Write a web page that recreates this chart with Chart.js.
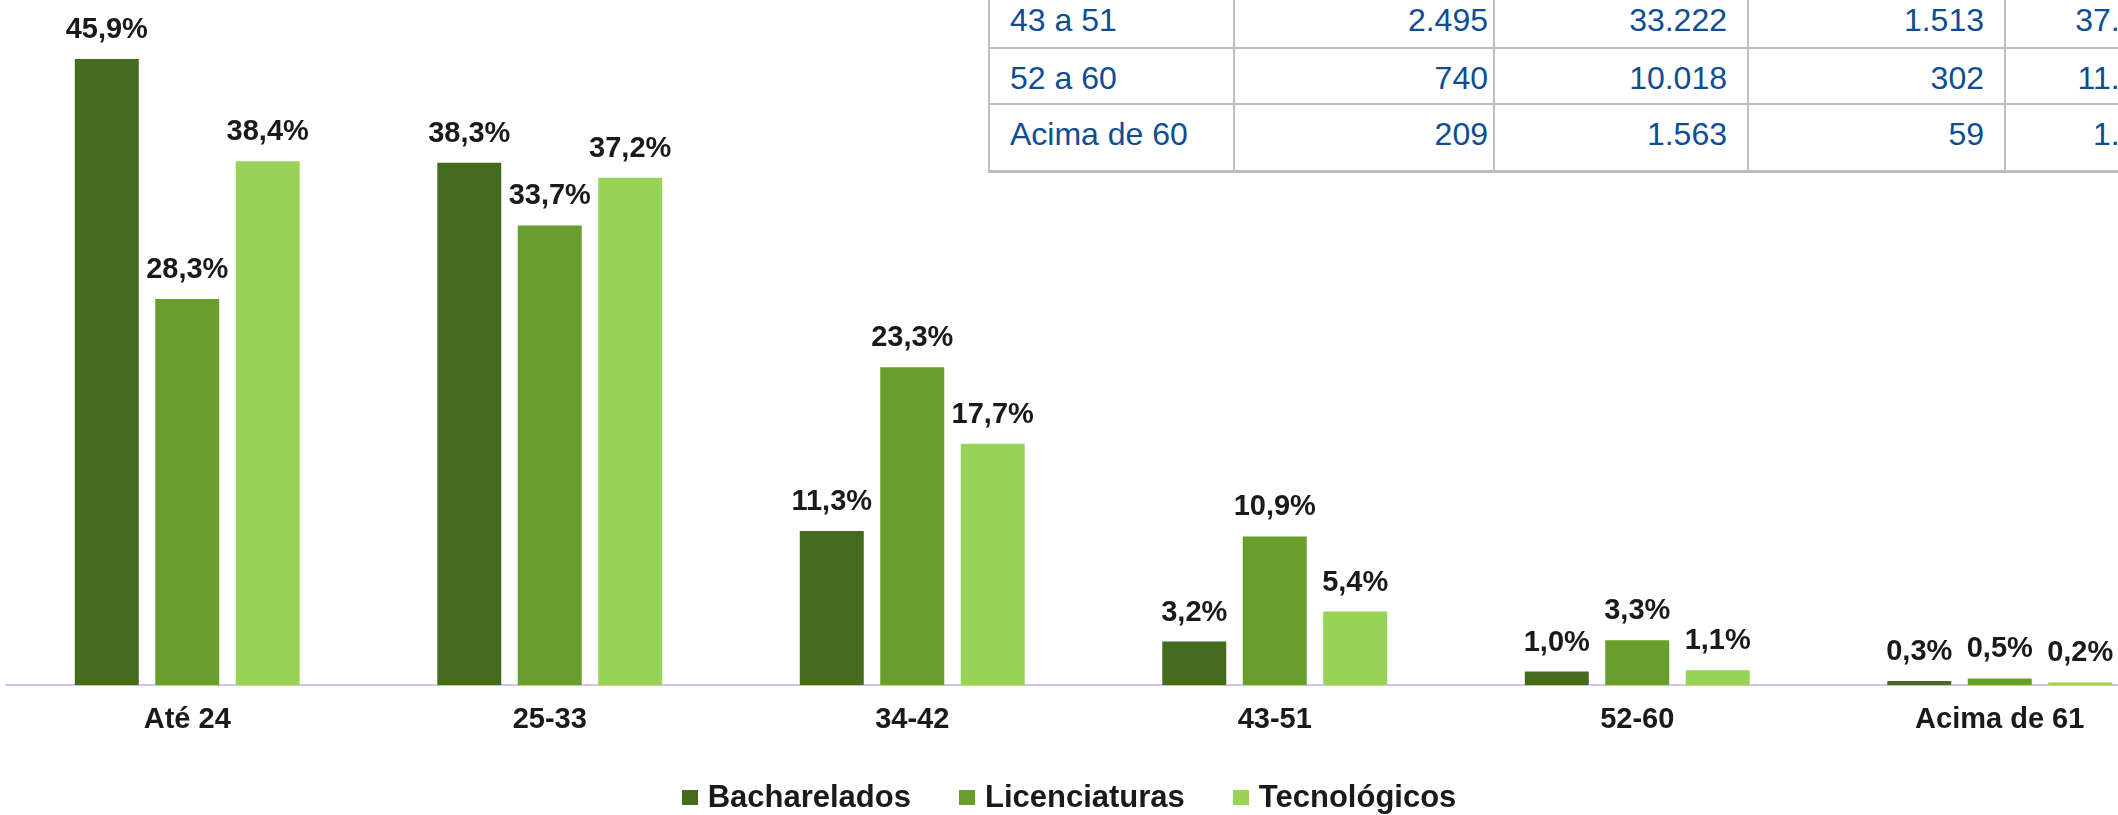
<!DOCTYPE html>
<html lang="pt-BR">
<head>
<meta charset="utf-8">
<title>Faixa etária dos concluintes</title>
<script src="https://cdn.jsdelivr.net/npm/chart.js@4.4.1/dist/chart.umd.min.js"></script>
<style>
  html, body { margin: 0; padding: 0; background: #fff; overflow: hidden; }
  body { width: 2118px; height: 815px; position: relative; font-family: 'Liberation Sans', Arial, sans-serif; }
  #chartBox { position: absolute; left: 0; top: 0; width: 2188px; height: 815px; }
  #ageTable { position: absolute; left: 988px; top: -11px; border-collapse: collapse; table-layout: fixed;
    color: #0e4d92; font-size: 32px; line-height: 36px; background: #fff; }
  #ageTable td { border: 2px solid #c0c0c0; padding: 11px 20px 0 20px; vertical-align: top;
    box-sizing: border-box; text-align: right; white-space: nowrap; }
  #ageTable td:first-child { text-align: left; }
  #ageTable td.bach { padding-right: 5px; }
  #ageTable tr:last-child td { border-bottom: 3px solid #bdbdbd; }
  #legend { position: absolute; left: 0; top: 782px; width: 2138px; display: flex; justify-content: center;
    gap: 48px; font-weight: bold; font-size: 31px; line-height: 30px; color: #1a1a1a; }
  .item { display: flex; align-items: center; }
  .swatch { width: 16px; height: 15px; margin-right: 10px; }
</style>
</head>
<body>
<div id="chartBox"><canvas id="ageChart"></canvas></div>
<table id="ageTable"><colgroup></colgroup><tbody></tbody></table>
<div id="legend"></div>
<script>
// percentuais por faixa etária
const categories = ['Até 24', '25-33', '34-42', '43-51', '52-60', 'Acima de 61'];
const bacharelados = [45.9, 38.3, 11.3, 3.2, 1.0, 0.3];
const licenciaturas = [28.3, 33.7, 23.3, 10.9, 3.3, 0.5];
const tecnologicos = [38.4, 37.2, 17.7, 5.4, 1.1, 0.2];
const seriesNames = ['Bacharelados', 'Licenciaturas', 'Tecnológicos'];
const seriesColors = ['#466a1e', '#689e2b', '#97d356'];

// tabela de totais (parte visível)
const tableRows = ['43 a 51', '52 a 60', 'Acima de 60'];
const tableBach = ['2.495', '740', '209'];
const tableLic = ['33.222', '10.018', '1.563'];
const tableTec = ['1.513', '302', '59'];
const tableTotal = ['37.230', '11.060', '1.831'];
const colWidths = [245, 260, 254, 257, 189];
const rowHeights = [58, 56, 67];

const font = "'Liberation Sans', Arial, sans-serif";

function formatPct(v) {
  return v.toFixed(1).replace('.', ',') + '%';
}

const barLabels = {
  id: 'barLabels',
  afterDatasetsDraw(chart) {
    const ctx = chart.ctx;
    ctx.save();
    ctx.font = 'bold 29px ' + font;
    ctx.fillStyle = '#1a1a1a';
    ctx.textAlign = 'center';
    ctx.textBaseline = 'alphabetic';
    chart.data.datasets.forEach((ds, i) => {
      chart.getDatasetMeta(i).data.forEach((bar, j) => {
        ctx.fillText(formatPct(ds.data[j]), bar.x, bar.y - 21);
      });
    });
    ctx.restore();
  }
};

const seriesData = [bacharelados, licenciaturas, tecnologicos];

new Chart(document.getElementById('ageChart'), {
  type: 'bar',
  data: {
    labels: categories,
    datasets: seriesNames.map((name, i) => ({
      label: name,
      data: seriesData[i],
      backgroundColor: seriesColors[i],
      borderWidth: 0,
      categoryPercentage: 0.666,
      barPercentage: 0.795
    }))
  },
  options: {
    responsive: true,
    maintainAspectRatio: false,
    animation: false,
    devicePixelRatio: 1,
    layout: { padding: { left: 6, right: 7, top: 3, bottom: 61 } },
    plugins: {
      legend: { display: false },
      tooltip: { enabled: false }
    },
    scales: {
      x: {
        grid: { display: false, drawTicks: false },
        border: { display: true, color: '#c9c9ef', width: 2 },
        ticks: { color: '#1a1a1a', padding: 17, font: { family: font, size: 29, weight: 'bold' } }
      },
      y: { display: false, min: 0, max: 50 }
    }
  },
  plugins: [barLabels]
});

// tabela no canto superior direito
const table = document.getElementById('ageTable');
const colgroup = table.querySelector('colgroup');
colWidths.forEach(w => {
  const col = document.createElement('col');
  col.style.width = w + 'px';
  colgroup.appendChild(col);
});
table.style.width = colWidths.reduce((a, b) => a + b, 0) + 'px';
const tbody = table.querySelector('tbody');
tableRows.forEach((name, r) => {
  const tr = document.createElement('tr');
  [name, tableBach[r], tableLic[r], tableTec[r], tableTotal[r]].forEach((txt, c) => {
    const td = document.createElement('td');
    td.textContent = txt;
    td.style.height = rowHeights[r] + 'px';
    if (c === 1) td.className = 'bach';
    tr.appendChild(td);
  });
  tbody.appendChild(tr);
});

// legenda
const legend = document.getElementById('legend');
seriesNames.forEach((name, i) => {
  const item = document.createElement('div');
  item.className = 'item';
  item.innerHTML = `<span class="swatch" style="background:${seriesColors[i]}"></span><span>${name}</span>`;
  legend.appendChild(item);
});
</script>
</body>
</html>
